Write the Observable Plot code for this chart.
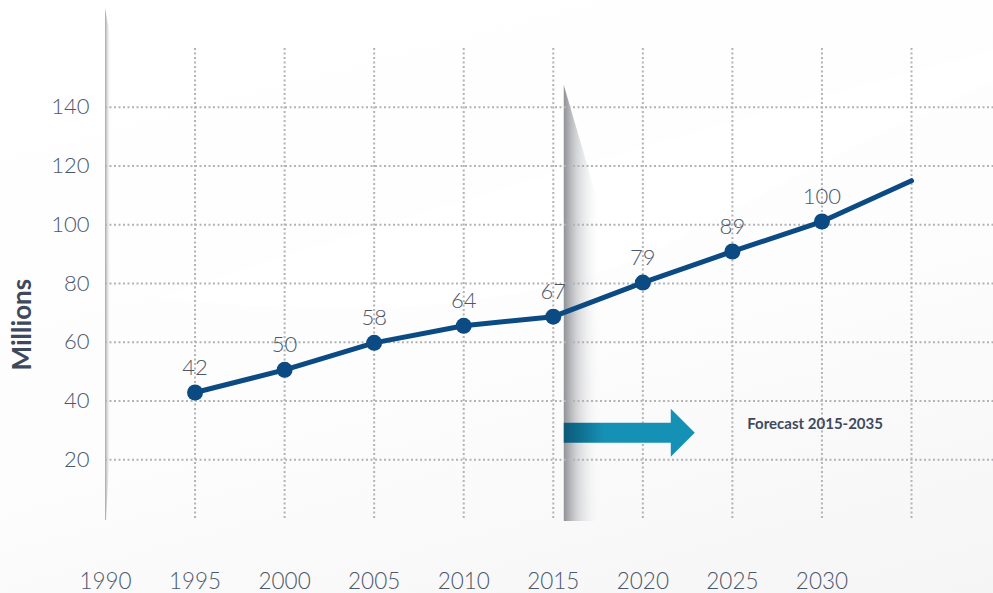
<!DOCTYPE html>
<html><head><meta charset="utf-8">
<script src="https://cdn.jsdelivr.net/npm/d3@7"></script>
<script src="https://cdn.jsdelivr.net/npm/@observablehq/plot@0.6"></script>
<style>
html,body{margin:0;padding:0;background:#fcfcfc;}
#chart{width:993px;height:593px;overflow:hidden;background:linear-gradient(165deg,#ffffff 0%,#fdfdfd 55%,#f5f5f6 100%);}
</style></head><body><div id="chart"></div>
<script>
// ---- data ----
const years  = [1995, 2000, 2005, 2010, 2015, 2020, 2025, 2030, 2035];
const values = [42.9, 50.6, 59.8, 65.6, 68.7, 80.3, 90.9, 101.1, 115];
const labels = ["42", "50", "58", "64", "67", "79", "89", "100", ""];
const xTicks = [1990, 1995, 2000, 2005, 2010, 2015, 2020, 2025, 2030];
const xGrid  = [1995, 2000, 2005, 2010, 2015, 2020, 2025, 2030, 2035];
const yTicks = [20, 40, 60, 80, 100, 120, 140];
const yTitle = "Millions";
const forecastStart = 2015;
const forecastText = "Forecast 2015-2035";

const points = years.map((yr, i) => ({year: yr, value: values[i], label: labels[i]}));
const marked = points.filter(d => d.label !== "");

const ink = "#4b586b";
const lineColor = "#0b4a82";

function decor(index, scales) {
  const x = scales.x, y = scales.y;
  const g = d3.create("svg:g");
  const defs = g.append("defs");
  const gb = defs.append("linearGradient").attr("id", "bandGrad").attr("x1", 0).attr("x2", 1).attr("y1", 0).attr("y2", 0);
  gb.append("stop").attr("offset", 0).attr("stop-color", "#8a8b90").attr("stop-opacity", 0.95);
  gb.append("stop").attr("offset", 0.35).attr("stop-color", "#c4c5c8").attr("stop-opacity", 0.7);
  gb.append("stop").attr("offset", 1).attr("stop-color", "#ffffff").attr("stop-opacity", 0);
  const gl = defs.append("linearGradient").attr("id", "leftGrad").attr("x1", 0).attr("x2", 1);
  gl.append("stop").attr("offset", 0).attr("stop-color", "#9a9ba0").attr("stop-opacity", 0.9);
  gl.append("stop").attr("offset", 1).attr("stop-color", "#ffffff").attr("stop-opacity", 0);
  const ga = defs.append("linearGradient").attr("id", "arrowGrad").attr("gradientUnits", "userSpaceOnUse");
  const x0 = x(forecastStart) + 11;
  ga.attr("x1", x0).attr("x2", x0 + 40).attr("y1", 0).attr("y2", 0);
  ga.append("stop").attr("offset", 0).attr("stop-color", "#0c5878");
  ga.append("stop").attr("offset", 1).attr("stop-color", "#1591b5");

  // soft light swoosh in background
  g.append("path")
    .attr("d", `M${x(1993)},${y(75)} Q${x(2012)},${y(62)} ${x(2022)},${y(95)} T${x(2040)},${y(150)} L${x(2040)},${y(160)} Q${x(2015)},${y(120)} ${x(1993)},${y(75)}Z`)
    .attr("fill", "#ffffff").attr("opacity", 0.7);

  // left thin shadow
  const xl = x(1990);
  g.append("path")
    .attr("d", `M${xl},${8} L${xl + 6},${40} L${xl + 6},${430} L${xl + 1},${y(0) + 2} L${xl},${y(0) + 2}Z`)
    .attr("fill", "url(#leftGrad)");

  // forecast fold band
  g.append("path")
    .attr("d", `M${x0},${85} L${x0 + 38},${215} L${x0 + 38},${y(0) + 3} L${x0},${y(0) + 3}Z`)
    .attr("fill", "url(#bandGrad)");
  return g.node();
}

function arrow(index, scales) {
  const x = scales.x, y = scales.y;
  const x0 = x(forecastStart) + 11;
  const yc = y(29);
  const bodyEnd = x0 + 107, tip = x0 + 131;
  const g = d3.create("svg:g");
  g.append("path")
    .attr("d", `M${x0},${yc - 10} L${bodyEnd},${yc - 10} L${bodyEnd},${yc - 24} L${tip},${yc} L${bodyEnd},${yc + 24} L${bodyEnd},${yc + 10} L${x0},${yc + 10}Z`)
    .attr("fill", "url(#arrowGrad)");
  return g.node();
}

const chart = Plot.plot({
  width: 993,
  height: 593,
  marginLeft: 105,
  marginRight: 82,
  marginTop: 48,
  marginBottom: 75,
  style: {background: "transparent", fontFamily: "Lato, 'Open Sans', sans-serif", color: ink, overflow: "visible"},
  x: {domain: [1990, 2035]},
  y: {domain: [0, 160]},
  marks: [
    decor,
    Plot.ruleY(yTicks, {x1: 1990, x2: 2040, stroke: "#b3b3b6", strokeWidth: 2, strokeDasharray: "2,2.5"}),
    Plot.ruleX(xGrid, {y1: 0, y2: 160, stroke: "#b3b3b6", strokeWidth: 2, strokeDasharray: "2,2.5"}),
    arrow,
    Plot.axisX({ticks: xTicks, tickSize: 0, tickPadding: 55, fontSize: 22.5, fontWeight: 300, tickFormat: d => String(d), label: null, fill: ink}),
    Plot.axisY({ticks: yTicks, tickSize: 0, tickPadding: 16, fontSize: 22, fontWeight: 300, label: null, fill: ink}),
    Plot.text([yTitle], {x: 1990, y: 66, dx: -83, rotate: -90, text: d => d, fontSize: 26, fontWeight: 700, fill: "#3e4a5c"}),
    Plot.line(points, {x: "year", y: "value", stroke: lineColor, strokeWidth: 5}),
    Plot.dot(marked, {x: "year", y: "value", r: 8, fill: lineColor}),
    Plot.text(marked, {x: "year", y: "value", text: "label", dy: -25, fontSize: 22, fontWeight: 300, fill: ink}),
    Plot.text([forecastText], {x: 2026, y: 32, dx: -3, text: d => d, textAnchor: "start", fontSize: 15, fontWeight: 700, fill: "#3e4a5c"})
  ]
});
document.getElementById("chart").appendChild(chart);
</script>
</body></html>
